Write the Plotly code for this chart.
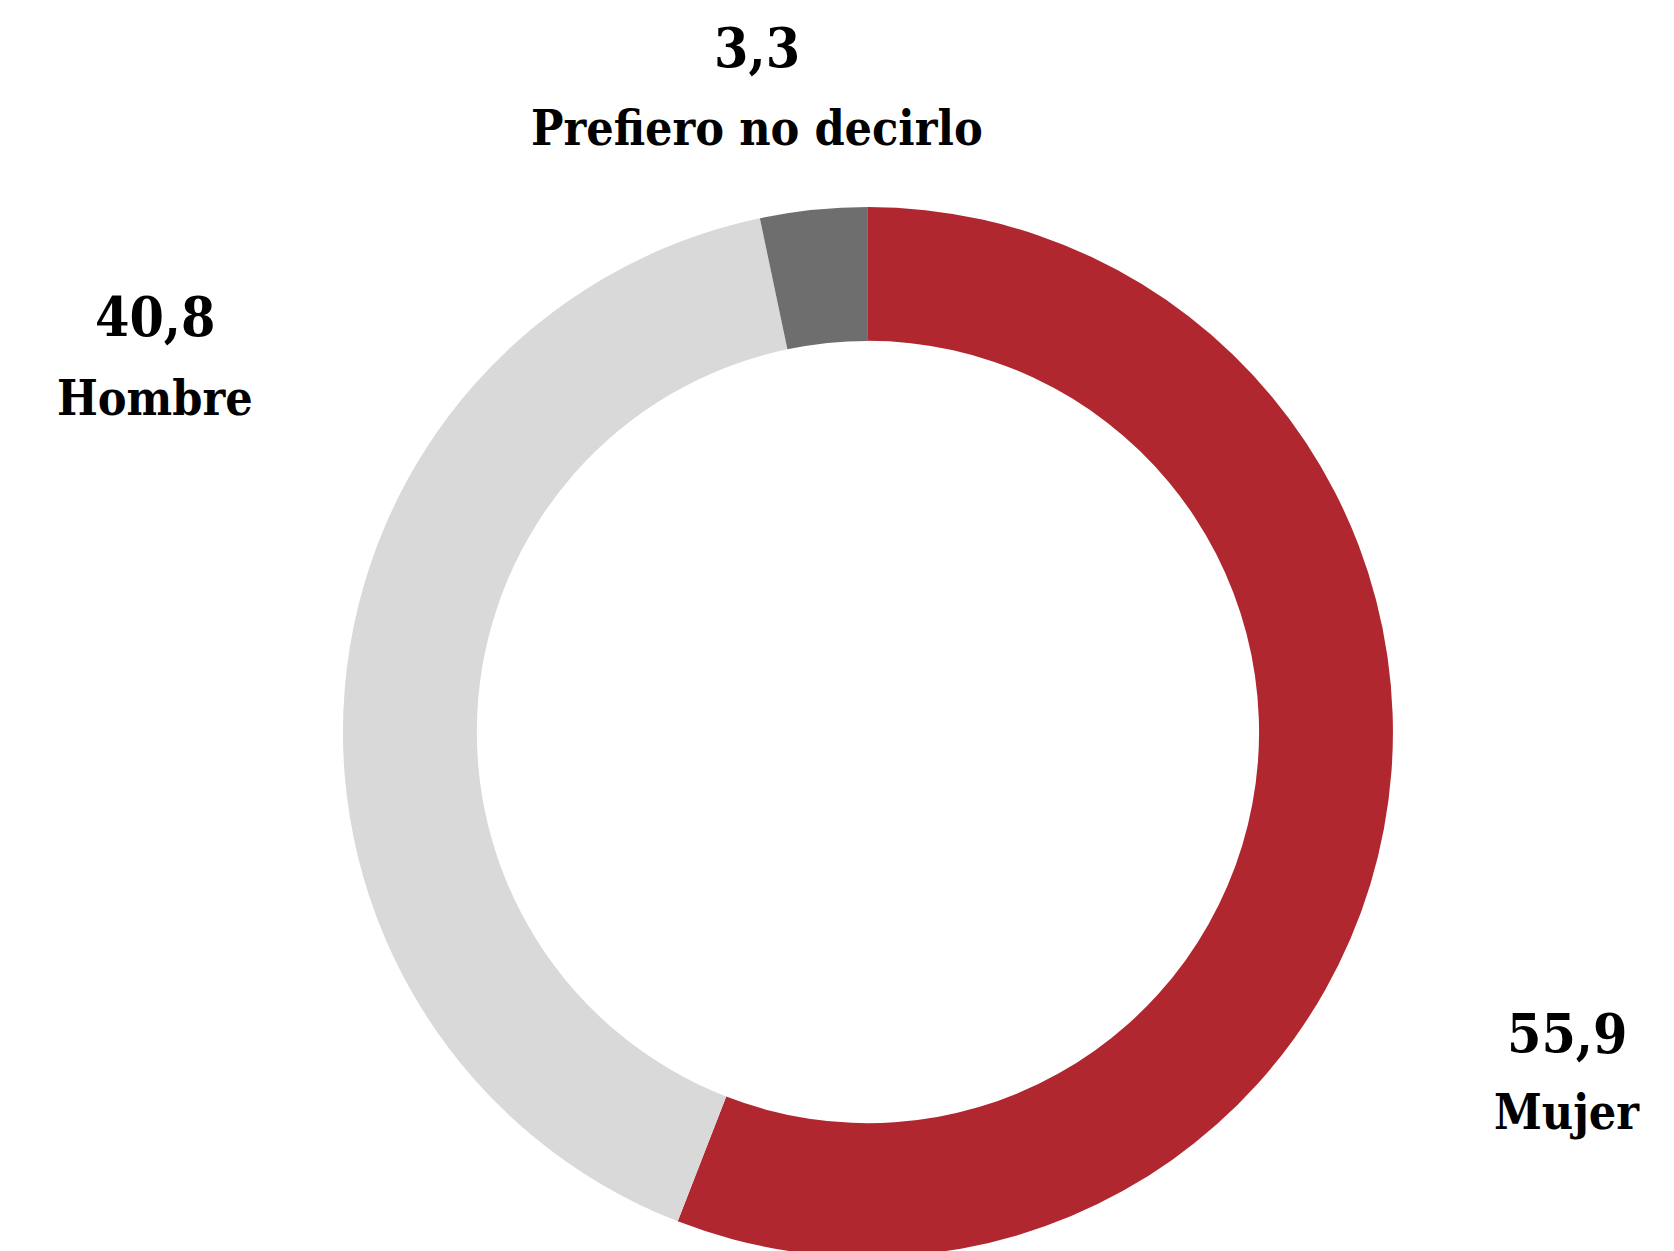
import plotly.graph_objects as go

# Data
categorias = ["Mujer", "Hombre", "Prefiero no decirlo"]
porcentajes = [55.9, 40.8, 3.3]
colores = ["#B0272F", "#D9D9D9", "#6E6E6E"]

W, H = 1674, 1251
T, B = 199, 2          # plot area is 1050 px tall -> radius 525
OFF = 8                # page body margin
FONT = "DejaVu Serif Condensed, DejaVu Serif"

fig = go.Figure(go.Pie(
    labels=categorias,
    values=porcentajes,
    hole=0.745,
    sort=False,
    direction="clockwise",
    rotation=0,
    marker=dict(colors=colores, line=dict(width=0)),
    textinfo="none",
    hoverinfo="label+value",
    domain=dict(x=[0.19, 0.8374], y=[0, 1]),
))

# label placement in window px: center x, value y, label y
pos = {
    "Mujer": (1567, 1033, 1112),
    "Hombre": (155, 317, 398),
    "Prefiero no decirlo": (757, 48, 128),
}


def px_to_paper(x, y):
    return (x - OFF) / W, (H - B - (y - OFF)) / (H - T - B)


annotations = []
for cat, val in zip(categorias, porcentajes):
    x, yv, yl = pos[cat]
    ax, ay = px_to_paper(x, yv)
    annotations.append(dict(
        x=ax, y=ay, xref="paper", yref="paper",
        text="<b>" + f"{val:.1f}".replace(".", ",") + "</b>",
        showarrow=False, xanchor="center", yanchor="middle",
        font=dict(family=FONT, size=55, color="#000000"),
    ))
    ax, ay = px_to_paper(x, yl)
    annotations.append(dict(
        x=ax, y=ay, xref="paper", yref="paper",
        text="<b>" + cat + "</b>",
        showarrow=False, xanchor="center", yanchor="middle",
        font=dict(family=FONT, size=48, color="#000000"),
    ))

fig.update_layout(
    width=W, height=H,
    margin=dict(l=0, r=0, t=T, b=B),
    showlegend=False,
    paper_bgcolor="white",
    plot_bgcolor="white",
    annotations=annotations,
)

fig.write_html("out.html")
